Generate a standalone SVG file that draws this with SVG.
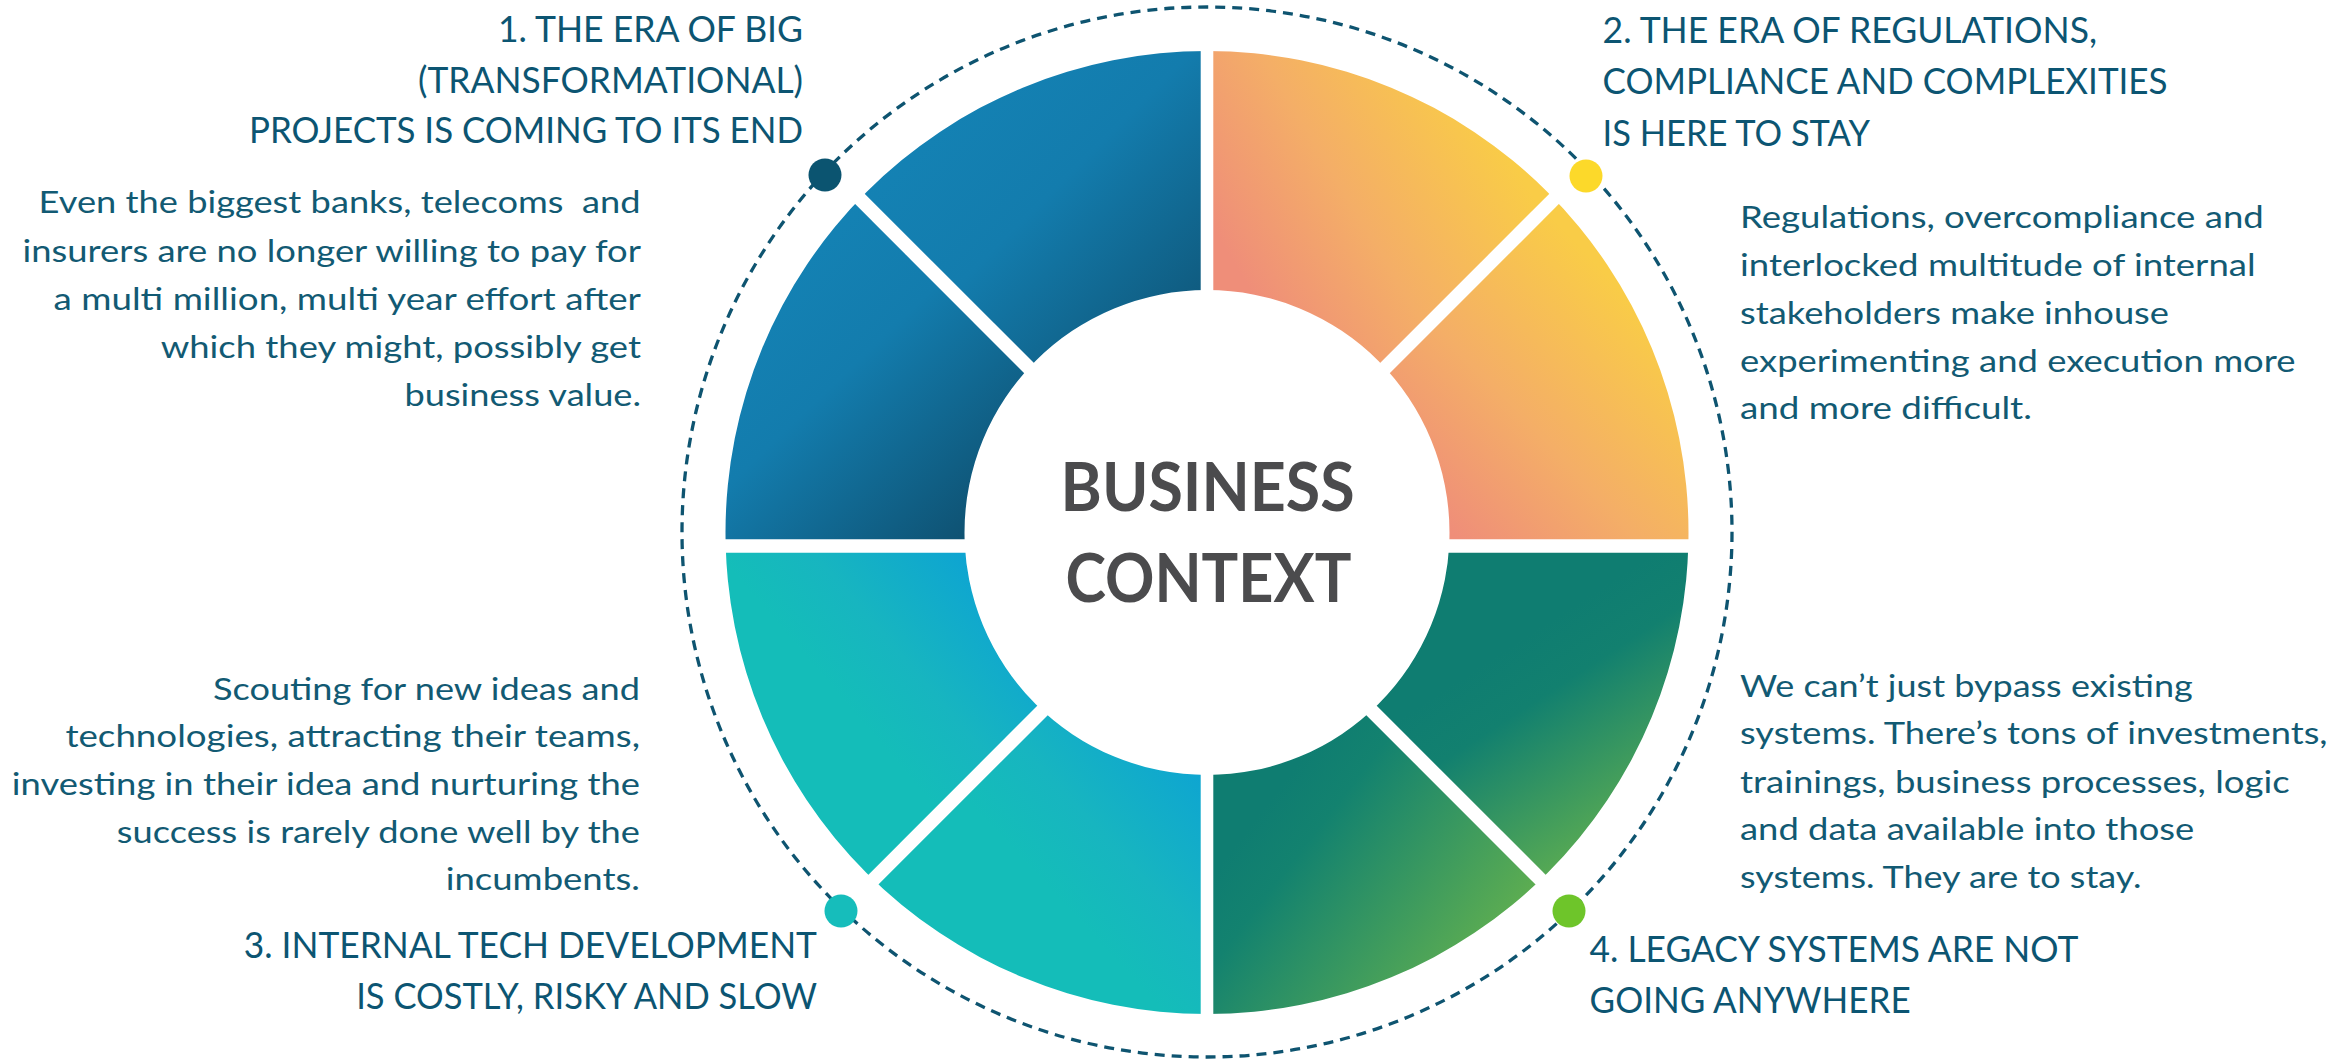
<svg xmlns="http://www.w3.org/2000/svg" width="2334" height="1063" viewBox="0 0 2334 1063">
<style>
.title{font-family:Lato,"Liberation Sans",sans-serif;font-size:37px;fill:#0c5572;font-weight:400}
.body{font-family:Lato,"Liberation Sans",sans-serif;font-size:31px;fill:#125a73;font-weight:400}
.center{font-family:Lato,"Liberation Sans",sans-serif;font-size:66px;fill:#4b4b4d;font-weight:700}
.gap{stroke:#ffffff;fill:none}
.dash{fill:none;stroke:#0e5470;stroke-width:3.3;stroke-dasharray:10 7}
</style>
<defs>
<path id="ring" fill-rule="evenodd" d="M1207 51 A481.5 481.5 0 1 1 1207 1014 A481.5 481.5 0 1 1 1207 51 Z M1207 290 A242.5 242.5 0 1 0 1207 775 A242.5 242.5 0 1 0 1207 290 Z"/>
<clipPath id="w1"><polygon points="1207,546 1207,-174 696.9,36.9"/></clipPath>
<clipPath id="w2"><polygon points="1207,546 696.9,36.9 487,546"/></clipPath>
<clipPath id="w3"><polygon points="1207,546 1716.1,36.9 1207,-174"/></clipPath>
<clipPath id="w4"><polygon points="1207,546 1927,546 1716.1,36.9"/></clipPath>
<clipPath id="w5"><polygon points="1207,546 1716.1,1055.1 1927,546"/></clipPath>
<clipPath id="w6"><polygon points="1207,546 1207,1266 1716.1,1055.1"/></clipPath>
<clipPath id="w7"><polygon points="1207,546 487,546 696.9,1055.1"/></clipPath>
<clipPath id="w8"><polygon points="1207,546 696.9,1055.1 1207,1266"/></clipPath>
<linearGradient id="g1" gradientUnits="userSpaceOnUse" x1="900" y1="140" x2="1190" y2="430"><stop offset="0" stop-color="#1482b4"/><stop offset="0.35" stop-color="#137cad"/><stop offset="1" stop-color="#0e4b69"/></linearGradient>
<linearGradient id="g2" gradientUnits="userSpaceOnUse" x1="760" y1="280" x2="1010" y2="540"><stop offset="0" stop-color="#1482b4"/><stop offset="0.35" stop-color="#137cad"/><stop offset="1" stop-color="#0e4b69"/></linearGradient>
<linearGradient id="g3" gradientUnits="userSpaceOnUse" x1="1250" y1="290" x2="1500" y2="140"><stop offset="0" stop-color="#ef8e79"/><stop offset="0.45" stop-color="#f4ae67"/><stop offset="1" stop-color="#f9cc47"/></linearGradient>
<linearGradient id="g4" gradientUnits="userSpaceOnUse" x1="1450" y1="530" x2="1660" y2="330"><stop offset="0" stop-color="#ef8e79"/><stop offset="0.45" stop-color="#f4ae67"/><stop offset="1" stop-color="#f9cc47"/></linearGradient>
<linearGradient id="g5" gradientUnits="userSpaceOnUse" x1="1520" y1="640" x2="1650" y2="840"><stop offset="0" stop-color="#0f7d71"/><stop offset="0.25" stop-color="#12806f"/><stop offset="1" stop-color="#62b04f"/></linearGradient>
<linearGradient id="g6" gradientUnits="userSpaceOnUse" x1="1270" y1="800" x2="1490" y2="970"><stop offset="0" stop-color="#0f7d71"/><stop offset="0.2" stop-color="#13826f"/><stop offset="1" stop-color="#62b04f"/></linearGradient>
<linearGradient id="g7" gradientUnits="userSpaceOnUse" x1="1000" y1="600" x2="860" y2="720"><stop offset="0" stop-color="#0ea5d1"/><stop offset="0.6" stop-color="#17b5c0"/><stop offset="1" stop-color="#14bdb9"/></linearGradient>
<linearGradient id="g8" gradientUnits="userSpaceOnUse" x1="1200" y1="770" x2="1060" y2="900"><stop offset="0" stop-color="#0ea5d1"/><stop offset="0.6" stop-color="#17b5c0"/><stop offset="1" stop-color="#14bdb9"/></linearGradient>
</defs>
<rect width="2334" height="1063" fill="#ffffff"/>

<g id="node-1">
<use href="#ring" fill="url(#g1)" clip-path="url(#w1)"/>
<use href="#ring" fill="url(#g2)" clip-path="url(#w2)"/>
</g>
<g id="node-2">
<use href="#ring" fill="url(#g3)" clip-path="url(#w3)"/>
<use href="#ring" fill="url(#g4)" clip-path="url(#w4)"/>
</g>
<g id="node-4">
<use href="#ring" fill="url(#g5)" clip-path="url(#w5)"/>
<use href="#ring" fill="url(#g6)" clip-path="url(#w6)"/>
</g>
<g id="node-3">
<use href="#ring" fill="url(#g7)" clip-path="url(#w7)"/>
<use href="#ring" fill="url(#g8)" clip-path="url(#w8)"/>
</g>

<g id="gaps">
<line class="gap" x1="1207" y1="40" x2="1207" y2="1025" stroke-width="12.6"/>
<line class="gap" x1="715" y1="546" x2="1700" y2="546" stroke-width="13.7"/>
<line class="gap" x1="853.4" y1="192.4" x2="1560.6" y2="899.6" stroke-width="14"/>
<line class="gap" x1="853.4" y1="899.6" x2="1560.6" y2="192.4" stroke-width="14"/>
</g>

<g id="connectors">
<circle class="dash" cx="1207" cy="532" r="525"/>
</g>

<g id="dots">
<circle cx="825" cy="175" r="16.5" fill="#0b5470"/>
<circle cx="1586" cy="176" r="16.5" fill="#fcd92a"/>
<circle cx="841" cy="911" r="16.5" fill="#16bdbb"/>
<circle cx="1569" cy="911" r="16.5" fill="#6ec52a"/>
</g>

<g id="center-node">
<text class="center" x="1060.6" y="511" textLength="294" lengthAdjust="spacingAndGlyphs">BUSINESS</text>
<text class="center" x="1065.4" y="601.7" textLength="286" lengthAdjust="spacingAndGlyphs">CONTEXT</text>
</g>

<g id="text-1">
<text class="title" x="498" y="41.7" textLength="305" lengthAdjust="spacingAndGlyphs">1. THE ERA OF BIG</text>
<text class="title" x="418" y="92.7" textLength="385" lengthAdjust="spacingAndGlyphs">(TRANSFORMATIONAL)</text>
<text class="title" x="249" y="143.3" textLength="554" lengthAdjust="spacingAndGlyphs">PROJECTS IS COMING TO ITS END</text>
<text class="body" xml:space="preserve" x="38.6" y="213.3" textLength="602" lengthAdjust="spacingAndGlyphs">Even the biggest banks, telecoms  and</text>
<text class="body" x="22.5" y="261.7" textLength="618.5" lengthAdjust="spacingAndGlyphs">insurers are no longer willing to pay for</text>
<text class="body" x="53.6" y="310" textLength="587.4" lengthAdjust="spacingAndGlyphs">a multi million, multi year effort after</text>
<text class="body" x="160.7" y="358.3" textLength="480.3" lengthAdjust="spacingAndGlyphs">which they might, possibly get</text>
<text class="body" x="404.5" y="406" textLength="236.5" lengthAdjust="spacingAndGlyphs">business value.</text>
</g>

<g id="text-2">
<text class="title" x="1602.6" y="43.3" textLength="494.4" lengthAdjust="spacingAndGlyphs">2. THE ERA OF REGULATIONS,</text>
<text class="title" x="1602.6" y="94.3" textLength="565" lengthAdjust="spacingAndGlyphs">COMPLIANCE AND COMPLEXITIES</text>
<text class="title" x="1602.6" y="145.7" textLength="267.4" lengthAdjust="spacingAndGlyphs">IS HERE TO STAY</text>
<text class="body" x="1740" y="228.3" textLength="523.8" lengthAdjust="spacingAndGlyphs">Regulations, overcompliance and</text>
<text class="body" x="1740" y="276" textLength="515.6" lengthAdjust="spacingAndGlyphs">interlocked multitude of internal</text>
<text class="body" x="1740" y="324" textLength="429" lengthAdjust="spacingAndGlyphs">stakeholders make inhouse</text>
<text class="body" x="1740" y="371.7" textLength="555.5" lengthAdjust="spacingAndGlyphs">experimenting and execution more</text>
<text class="body" x="1740" y="419.3" textLength="292" lengthAdjust="spacingAndGlyphs">and more difficult.</text>
</g>

<g id="text-3">
<text class="body" x="213" y="700" textLength="427" lengthAdjust="spacingAndGlyphs">Scouting for new ideas and</text>
<text class="body" x="65.4" y="747.3" textLength="574.6" lengthAdjust="spacingAndGlyphs">technologies, attracting their teams,</text>
<text class="body" x="11.8" y="795" textLength="628.2" lengthAdjust="spacingAndGlyphs">investing in their idea and nurturing the</text>
<text class="body" x="116.8" y="842.7" textLength="523.2" lengthAdjust="spacingAndGlyphs">success is rarely done well by the</text>
<text class="body" x="445.7" y="890" textLength="194.3" lengthAdjust="spacingAndGlyphs">incumbents.</text>
<text class="title" x="243.7" y="958.3" textLength="573.3" lengthAdjust="spacingAndGlyphs">3. INTERNAL TECH DEVELOPMENT</text>
<text class="title" x="356.2" y="1009.3" textLength="460.8" lengthAdjust="spacingAndGlyphs">IS COSTLY, RISKY AND SLOW</text>
</g>

<g id="text-4">
<text class="body" x="1740" y="696.7" textLength="452.8" lengthAdjust="spacingAndGlyphs">We can’t just bypass existing</text>
<text class="body" x="1740" y="744.3" textLength="587.6" lengthAdjust="spacingAndGlyphs">systems. There’s tons of investments,</text>
<text class="body" x="1740" y="792.7" textLength="549.6" lengthAdjust="spacingAndGlyphs">trainings, business processes, logic</text>
<text class="body" x="1740" y="840" textLength="454.3" lengthAdjust="spacingAndGlyphs">and data available into those</text>
<text class="body" x="1740" y="888.3" textLength="401.5" lengthAdjust="spacingAndGlyphs">systems. They are to stay.</text>
<text class="title" x="1589.6" y="961.7" textLength="488.7" lengthAdjust="spacingAndGlyphs">4. LEGACY SYSTEMS ARE NOT</text>
<text class="title" x="1589.6" y="1012.7" textLength="321" lengthAdjust="spacingAndGlyphs">GOING ANYWHERE</text>
</g>
</svg>
